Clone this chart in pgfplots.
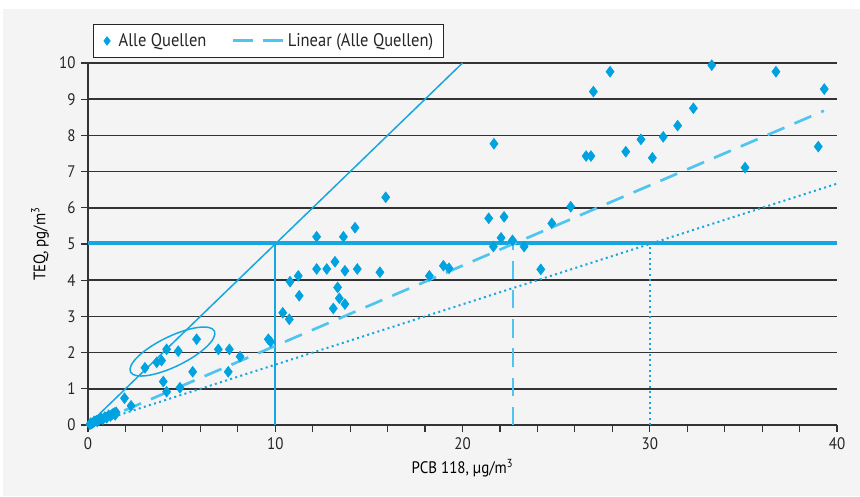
\documentclass[border=0pt]{standalone}
\usepackage{fontspec}
\setmainfont{PT Sans}[FakeStretch=0.9]
\usepackage{pgfplots}
\pgfplotsset{compat=1.18}
\definecolor{markblue}{RGB}{0,163,224}
\definecolor{lineblue}{RGB}{22,167,224}
\definecolor{dashblue}{RGB}{78,196,240}
\definecolor{bggray}{RGB}{244,244,244}
\begin{document}
\begin{tikzpicture}
\path (0,0) rectangle (516pt,297.6pt);
\fill[bggray] (1.8pt,0) rectangle (516pt,292.2pt);
\begin{axis}[
  scale only axis,
  width=449.4pt, height=217.2pt,
  at={(52.8pt,42.6pt)}, anchor=south west,
  xmin=0, xmax=40, ymin=0, ymax=10,
  axis x line*=bottom, axis y line*=left,
  axis line style={black!80, line width=0.8pt, -},
  xtick={0,10,20,30,40}, minor xtick={2,4,6,8,12,14,16,18,22,24,26,28,32,34,36,38},
  ytick={0,1,...,10},
  tick align=outside,
  major tick length=4pt, minor tick length=4pt,
  every tick/.style={black!80, line width=0.7pt},
  ymajorgrids,
  major grid style={black!80, line width=0.9pt},
  /pgf/number format/assume math mode=true,
  tick label style={font=\fontsize{10}{12}\selectfont, text=black!85},
  xlabel={PCB 118, µg/m\textsuperscript{3}},
  ylabel={TEQ, pg/m\textsuperscript{3}},
  label style={font=\fontsize{10}{12}\selectfont, text=black!85},
  every axis x label/.style={at={(axis description cs:0.5,0)}, yshift=-25.8pt, anchor=center},
  every axis y label/.style={at={(axis description cs:0,0.5)}, xshift=-28.8pt, rotate=90, anchor=center},
  legend style={at={(rel axis cs:0.007,1.015)}, anchor=south west, draw=black!85, line width=0.6pt,
    fill=white, font=\fontsize{11}{13}\selectfont, text=black!85, legend columns=2,
    /tikz/every even column/.append style={column sep=13pt}, inner ysep=3pt, inner xsep=4pt},
  legend cell align=left,
]
% reference lines
\addplot[lineblue, line width=0.9pt, forget plot] coordinates {(0,0) (20,10)};
\addplot[lineblue, line width=1.2pt, forget plot] coordinates {(10,0) (10,5)};
\addplot[lineblue, line width=2pt, forget plot] coordinates {(0,5.03) (40,5.03)};
\addplot[lineblue, line width=1.2pt, dotted, forget plot] coordinates {(0,0) (40,6.667)};
\addplot[lineblue, line width=1.2pt, dotted, forget plot] coordinates {(30,0) (30,5)};
\addplot[dashblue, line width=1.6pt, dash pattern=on 11pt off 6.5pt, forget plot] coordinates {(22.7,0) (22.7,5)};
% data
\addplot[only marks, mark=diamond*, mark size=3.2pt, color=markblue, mark options={fill=markblue, draw=markblue},
  legend image code/.code={\path[draw=none] (0pt,0pt) -- (9pt,0pt); \path[draw=none, mark=diamond*, mark size=2.4pt, mark options={fill=markblue, draw=markblue}] plot coordinates {(4pt,0pt)};}] coordinates {
(0.1,0.02) (0.15,0.05) (0.2,0.04) (0.3,0.08) (0.35,0.1) (0.45,0.12) (0.5,0.1)
(0.6,0.15) (0.7,0.18) (0.8,0.16) (0.9,0.22) (1.0,0.2) (1.1,0.27) (1.2,0.25)
(1.3,0.3) (1.4,0.33) (1.5,0.35) (1.45,0.28)
(1.95,0.74) (2.3,0.53) (3.04,1.58) (3.67,1.73) (3.93,1.78) (4.2,2.09) (4.82,2.04)
(5.8,2.37) (4.02,1.2) (4.2,0.92) (4.91,1.03) (5.59,1.47) (6.96,2.09) (7.55,2.09)
(7.49,1.47) (8.12,1.89) (9.63,2.37) (9.75,2.3) (10.4,3.1) (10.75,2.92) (10.79,3.96)
(11.23,4.12) (11.28,3.57) (12.21,5.2) (13.64,5.2) (14.26,5.45) (12.21,4.31)
(12.75,4.31) (13.19,4.51) (13.72,4.26) (14.38,4.31) (15.59,4.22) (13.33,3.8)
(13.42,3.5) (13.72,3.34) (13.1,3.22) (15.9,6.29) (18.23,4.12) (18.98,4.4)
(19.28,4.33) (21.68,7.77) (21.4,5.71) (22.22,5.75) (22.06,5.17) (22.67,5.1)
(21.65,4.93) (23.29,4.93) (24.18,4.3) (24.77,5.57) (25.78,6.03) (26.6,7.43)
(26.86,7.43) (26.99,9.21) (27.88,9.76) (28.72,7.55) (29.53,7.89) (30.14,7.38)
(30.72,7.96) (31.49,8.27) (32.33,8.75) (33.31,9.94) (35.09,7.11) (36.74,9.76)
(39.0,7.69) (39.32,9.28)
};
\addlegendentry{Alle Quellen}
\addplot[dashblue, line width=1.6pt, dash pattern=on 11pt off 6.5pt,
  legend image code/.code={\draw[dashblue, line width=1.8pt, solid] (0pt,0pt) -- (12pt,0pt) (18pt,0pt) -- (30pt,0pt);}] coordinates {(0.5,0.08) (39.3,8.68)};
\addlegendentry{Linear (Alle Quellen)}
\draw[lineblue, line width=0.9pt] (axis cs:4.51,2.03) ellipse[x radius=28pt, y radius=9pt, rotate=26];
\end{axis}
\end{tikzpicture}
\end{document}
